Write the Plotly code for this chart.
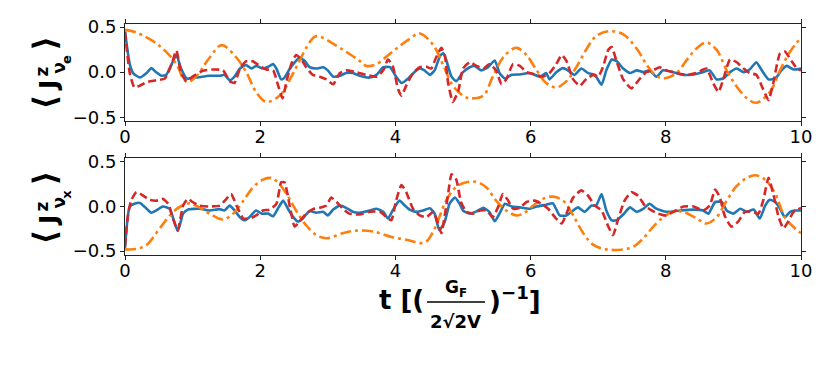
import plotly.graph_objects as go

# ---------------- data ----------------
t_top_orange = [0, 0.17, 0.5, 0.76, 0.86, 0.93, 1.05, 1.25, 1.43, 1.65, 1.8, 1.94, 2.09, 2.29, 2.44, 2.58, 2.73, 2.83,
                3.22, 3.47, 3.57, 3.72, 3.96, 4.21, 4.36, 4.56, 4.7, 4.85, 5.0, 5.1, 5.3, 5.44, 5.59, 5.74, 5.8, 5.94,
                6.09, 6.23, 6.38, 6.53, 6.68, 6.83, 6.97, 7.15, 7.37, 7.57, 7.71, 7.84, 7.96, 8.16, 8.3, 8.45, 8.6,
                8.75, 8.9, 9.04, 9.2, 9.34, 9.54, 9.69, 9.84, 10]
v_top_orange = [0.47, 0.44, 0.30, 0.09, -0.07, -0.11, -0.05, 0.16, 0.30, 0.16, -0.01, -0.22, -0.33, -0.26, -0.08, 0.125,
                0.33, 0.40, 0.25, 0.125, 0.07, 0.09, 0.23, 0.37, 0.43, 0.30, 0.09, -0.15, -0.26, -0.29, -0.26, -0.05,
                0.16, 0.26, 0.27, 0.19, 0.02, -0.12, -0.17, -0.10, 0.06, 0.26, 0.40, 0.455, 0.42, 0.26, 0.09, -0.03,
                -0.07, -0.01, 0.125, 0.26, 0.33, 0.25, 0.02, -0.15, -0.29, -0.34, -0.22, 0.02, 0.23, 0.385]

t_top_blue = [0, 0.07, 0.12, 0.22, 0.32, 0.39, 0.46, 0.54, 0.61, 0.69, 0.76, 0.83, 0.91, 1.05, 1.25, 1.4, 1.47, 1.55,
              1.62, 1.7, 1.79, 1.87, 1.94, 2.04, 2.12, 2.19, 2.24, 2.31, 2.36, 2.44, 2.51, 2.58, 2.66, 2.73, 2.83,
              2.93, 3.0, 3.08, 3.18, 3.27, 3.37, 3.47, 3.62, 3.72, 3.82, 3.92, 4.01, 4.09, 4.19, 4.28, 4.36, 4.43,
              4.51, 4.58, 4.66, 4.71, 4.75, 4.83, 4.9, 5.0, 5.1, 5.17, 5.27, 5.37, 5.47, 5.54, 5.62, 5.72, 5.84,
              5.99, 6.14, 6.23, 6.28, 6.38, 6.48, 6.55, 6.65, 6.75, 6.85, 6.95, 7.05, 7.12, 7.2, 7.27, 7.37, 7.47,
              7.57, 7.67, 7.76, 7.86, 7.96, 8.11, 8.26, 8.41, 8.55, 8.65, 8.75, 8.85, 8.95, 9.05, 9.15, 9.24, 9.34,
              9.42, 9.52, 9.62, 9.71, 9.79, 9.89, 10]
v_top_blue = [0.45, 0.09, -0.01, -0.06, -0.01, 0.045, 0.0, -0.04, -0.03, 0.09, 0.19, 0.04, -0.07, -0.06, -0.04, -0.04,
              -0.03, -0.09, -0.05, 0.04, 0.08, 0.04, 0.07, 0.04, 0.06, 0.09, 0.04, -0.08, -0.06, 0.04, 0.11, 0.16,
              0.125, 0.055, 0.04, 0.055, 0.02, -0.05, -0.04, -0.01, -0.01, -0.04, -0.06, -0.03, 0.055, 0.055, -0.05,
              -0.12, -0.07, 0.0, 0.04, 0.02, -0.03, 0.02, 0.18, 0.21, 0.14, -0.05, -0.10, 0.0, 0.055, 0.07, 0.02,
              0.055, 0.13, -0.01, -0.07, -0.03, -0.025, -0.01, -0.05, -0.01, -0.08, 0.0, 0.045, 0.02, -0.03, 0.04,
              -0.01, -0.03, -0.14, 0.02, 0.14, 0.125, 0.04, -0.01, 0.02, 0.0, 0.02, -0.05, 0.02, 0.0, -0.03, -0.025,
              0.0, 0.02, -0.08, -0.07, 0.0, 0.04, 0.0, 0.03, 0.11, 0.02, -0.08, -0.07, 0.02, 0.07, 0.03, 0.04]

t_top_red = [0, 0.07, 0.14, 0.22, 0.32, 0.46, 0.59, 0.69, 0.76, 0.83, 0.91, 1.0, 1.15, 1.3, 1.45, 1.55, 1.62, 1.7,
             1.79, 1.89, 1.99, 2.09, 2.19, 2.26, 2.33, 2.39, 2.46, 2.53, 2.61, 2.68, 2.78, 2.88, 2.98, 3.08, 3.18,
             3.27, 3.42, 3.57, 3.72, 3.82, 3.89, 3.96, 4.04, 4.09, 4.16, 4.26, 4.36, 4.46, 4.53, 4.6, 4.68, 4.73,
             4.78, 4.85, 4.93, 5.0, 5.1, 5.2, 5.3, 5.39, 5.49, 5.57, 5.64, 5.74, 5.84, 5.94, 6.09, 6.18, 6.28, 6.38,
             6.46, 6.53, 6.63, 6.73, 6.83, 6.93, 7.0, 7.07, 7.15, 7.2, 7.27, 7.37, 7.49, 7.62, 7.71, 7.81, 7.91,
             8.01, 8.16, 8.31, 8.45, 8.6, 8.7, 8.78, 8.85, 8.95, 9.05, 9.15, 9.24, 9.34, 9.44, 9.52, 9.59, 9.69,
             9.76, 9.86, 9.94, 10]
v_top_red = [0.45, -0.01, -0.17, -0.15, -0.11, -0.09, -0.07, 0.09, 0.24, -0.01, -0.10, -0.05, 0.015, 0.03, 0.02, -0.10,
             -0.12, 0.04, 0.12, 0.12, 0.07, 0.03, 0.02, -0.135, -0.29, -0.10, 0.09, 0.19, 0.14, 0.055, -0.03, -0.05,
             -0.08, -0.135, -0.01, 0.02, 0.0, -0.03, -0.05, 0.02, 0.14, 0.07, -0.19, -0.26, -0.15, -0.01, 0.055,
             0.06, 0.04, 0.16, 0.27, 0.19, -0.12, -0.33, -0.21, 0.04, 0.11, 0.07, 0.04, 0.09, 0.02, -0.135, -0.08,
             0.09, 0.07, 0.0, -0.03, -0.05, -0.01, 0.09, 0.19, 0.125, -0.08, -0.15, -0.07, -0.03, -0.05, 0.055,
             0.25, 0.28, 0.125, -0.08, -0.18, -0.07, 0.0, 0.02, 0.055, 0.02, -0.01, -0.03, -0.01, 0.04, -0.12,
             -0.22, -0.08, 0.14, 0.11, 0.04, -0.01, -0.03, -0.19, -0.31, -0.12, 0.21, 0.23, 0.125, 0.04, 0.02]

t_bot_orange = [0, 0.17, 0.32, 0.46, 0.61, 0.76, 0.91, 0.96, 1.1, 1.25, 1.45, 1.6, 1.75, 1.89, 2.04, 2.14, 2.24, 2.39,
                2.53, 2.68, 2.83, 2.98, 3.22, 3.42, 3.67, 3.96, 4.21, 4.36, 4.46, 4.56, 4.65, 4.75, 4.9, 5.05, 5.2,
                5.35, 5.49, 5.64, 5.79, 5.89, 6.04, 6.18, 6.33, 6.48, 6.63, 6.78, 6.93, 7.12, 7.37, 7.52, 7.67, 7.81,
                7.96, 8.11, 8.26, 8.46, 8.6, 8.75, 8.9, 9.05, 9.2, 9.32, 9.47, 9.62, 9.76, 9.89, 10]
v_bot_orange = [-0.48, -0.475, -0.43, -0.30, -0.15, -0.03, 0.03, 0.035, -0.01, -0.08, -0.145, -0.08, 0.065, 0.21, 0.30,
                0.32, 0.285, 0.14, -0.045, -0.21, -0.32, -0.355, -0.30, -0.27, -0.28, -0.345, -0.38, -0.41, -0.39,
                -0.28, -0.12, 0.065, 0.22, 0.27, 0.275, 0.21, 0.065, -0.045, -0.10, -0.08, 0.01, 0.085, 0.11, 0.065,
                -0.10, -0.30, -0.43, -0.48, -0.48, -0.45, -0.355, -0.23, -0.12, -0.06, -0.06, -0.135, -0.19, -0.12,
                0.065, 0.23, 0.32, 0.35, 0.30, 0.14, -0.12, -0.23, -0.30]

t_bot_blue = [0, 0.07, 0.14, 0.22, 0.32, 0.39, 0.46, 0.56, 0.66, 0.78, 0.86, 0.93, 1.1, 1.25, 1.4, 1.47, 1.55, 1.62,
              1.7, 1.77, 1.84, 1.94, 2.02, 2.12, 2.19, 2.26, 2.34, 2.41, 2.49, 2.56, 2.63, 2.73, 2.83, 2.93, 3.0,
              3.08, 3.18, 3.27, 3.37, 3.47, 3.62, 3.72, 3.82, 3.89, 3.96, 4.06, 4.14, 4.21, 4.31, 4.41, 4.51, 4.58,
              4.65, 4.73, 4.8, 4.88, 4.95, 5.0, 5.1, 5.2, 5.3, 5.39, 5.47, 5.54, 5.62, 5.72, 5.84, 5.99, 6.09, 6.23,
              6.33, 6.43, 6.53, 6.63, 6.7, 6.8, 6.9, 6.97, 7.05, 7.12, 7.2, 7.27, 7.37, 7.47, 7.57, 7.67, 7.76, 7.86,
              8.01, 8.21, 8.41, 8.55, 8.63, 8.73, 8.83, 8.9, 9.0, 9.1, 9.2, 9.3, 9.39, 9.47, 9.54, 9.62, 9.69, 9.76,
              9.84, 9.91, 10]
v_bot_blue = [-0.465, 0.0, 0.03, 0.04, -0.025, -0.07, -0.045, 0.0, -0.025, -0.275, -0.08, -0.035, -0.025, -0.045, -0.03,
              -0.045, 0.01, -0.045, -0.12, -0.155, -0.12, -0.045, -0.08, -0.08, -0.11, -0.025, 0.065, -0.025, -0.12,
              -0.17, -0.135, -0.05, -0.07, -0.06, -0.10, -0.035, 0.01, -0.015, -0.06, -0.07, -0.045, -0.025, -0.06,
              -0.135, -0.045, 0.065, 0.01, -0.035, -0.06, -0.045, -0.02, -0.08, -0.265, -0.17, 0.03, 0.10, 0.03,
              -0.045, -0.08, -0.055, -0.015, -0.06, -0.165, -0.08, 0.03, 0.0, -0.01, -0.025, 0.0, 0.02, 0.035, -0.10,
              -0.10, -0.045, -0.01, -0.06, 0.01, 0.01, 0.14, -0.045, -0.155, -0.155, -0.09, -0.01, -0.06, -0.025,
              0.03, -0.025, -0.06, -0.045, -0.035, -0.045, -0.08, 0.05, 0.05, -0.045, -0.08, -0.025, -0.06, -0.035,
              -0.135, 0.01, 0.075, 0.05, -0.025, -0.12, -0.06, -0.045, -0.045]

t_bot_red = [0, 0.04, 0.09, 0.17, 0.27, 0.36, 0.46, 0.56, 0.64, 0.71, 0.78, 0.86, 0.93, 1.0, 1.1, 1.25, 1.4, 1.5,
             1.57, 1.65, 1.75, 1.84, 1.94, 2.04, 2.14, 2.24, 2.31, 2.36, 2.44, 2.51, 2.58, 2.68, 2.78, 2.88, 2.98,
             3.05, 3.13, 3.22, 3.32, 3.47, 3.62, 3.77, 3.87, 3.94, 4.01, 4.09, 4.16, 4.26, 4.36, 4.46, 4.56, 4.63,
             4.68, 4.73, 4.78, 4.83, 4.9, 4.97, 5.05, 5.15, 5.25, 5.35, 5.44, 5.52, 5.59, 5.67, 5.74, 5.84, 5.94,
             6.06, 6.16, 6.26, 6.36, 6.46, 6.53, 6.63, 6.75, 6.85, 6.95, 7.05, 7.15, 7.22, 7.29, 7.39, 7.49, 7.59,
             7.69, 7.79, 7.89, 8.01, 8.11, 8.26, 8.41, 8.55, 8.65, 8.73, 8.8, 8.87, 8.97, 9.07, 9.17, 9.27, 9.37,
             9.44, 9.52, 9.59, 9.67, 9.74, 9.81, 9.89, 10]
v_bot_red = [-0.445, -0.12, 0.065, 0.16, 0.12, 0.075, 0.065, 0.085, 0.03, -0.135, -0.265, 0.01, 0.085, 0.05, 0.01, 0.0,
             0.01, 0.085, 0.14, 0.01, -0.135, -0.135, -0.10, -0.045, -0.035, 0.03, 0.27, 0.27, -0.005, -0.225, -0.17,
             -0.08, -0.03, -0.015, 0.01, 0.10, 0.05, -0.025, -0.08, -0.09, -0.06, -0.06, -0.12, -0.155, 0.065, 0.24,
             0.16, -0.025, -0.10, -0.12, -0.06, -0.19, -0.30, -0.10, 0.14, 0.36, 0.30, 0.05, -0.06, -0.08, -0.045,
             -0.045, -0.12, -0.005, 0.14, 0.065, -0.025, -0.015, 0.05, 0.065, 0.03, -0.025, -0.12, -0.19, -0.08,
             0.10, 0.18, 0.12, 0.01, -0.045, -0.225, -0.32, -0.155, 0.065, 0.16, 0.12, 0.01, -0.045, -0.08, -0.10,
             -0.06, 0.0, 0.0, -0.045, 0.01, 0.19, 0.10, -0.10, -0.225, -0.17, -0.06, -0.06, -0.08, 0.065, 0.32,
             0.14, -0.12, -0.245, -0.17, -0.06, -0.015]

x_ticks = [0, 2, 4, 6, 8, 10]
y_ticks = [-0.5, 0.0, 0.5]
y_tick_text = ["\u22120.5", "0.0", "0.5"]

BLUE, ORANGE, RED = "#1f77b4", "#ff7f0e", "#d62728"
FONT = "DejaVu Sans"

fig = go.Figure()


def add(t, v, color, dash, ax, smooth):
    fig.add_trace(go.Scatter(
        x=t, y=v, mode="lines", xaxis="x" + ax, yaxis="y" + ax,
        line=dict(color=color, width=2.6, dash=dash, shape="spline", smoothing=smooth),
        showlegend=False, hoverinfo="skip"))


add(t_top_blue, v_top_blue, BLUE, "solid", "", 0.5)
add(t_top_orange, v_top_orange, ORANGE, "11px,4px,3px,4px", "", 1.0)
add(t_top_red, v_top_red, RED, "8px,4px", "", 0.5)
add(t_bot_blue, v_bot_blue, BLUE, "solid", "2", 0.5)
add(t_bot_orange, v_bot_orange, ORANGE, "11px,4px,3px,4px", "2", 1.0)
add(t_bot_red, v_bot_red, RED, "8px,4px", "2", 0.5)

# The page body adds an 8px offset; work in screen pixels and subtract it.
OFF = 8
W, H = 830, 374
PLOT_L, PLOT_R, PLOT_T, PLOT_B = 125, 801, 17, 255   # screen pixels of the plotting area
ML, MT = PLOT_L - OFF, PLOT_T - OFF
MR = W - (PLOT_R - OFF)
MB = H - (PLOT_B - OFF)
PH = H - MT - MB
PW = W - ML - MR

axis_common = dict(showline=True, linecolor="#222", linewidth=1, mirror="ticks", ticks="outside",
                   ticklen=4, tickcolor="#222", showgrid=False, zeroline=False,
                   tickfont=dict(family=FONT, size=18, color="black"))


def px(xs):
    return (xs - PLOT_L) / PW


def py(ys):
    return (PLOT_B - ys) / PH


top_dom = [py(117), 1.0]
bot_dom = [0.0, py(155)]

fig.update_layout(
    width=W, height=H, margin=dict(l=ML, r=MR, t=MT, b=MB),
    plot_bgcolor="white", paper_bgcolor="white",
    xaxis=dict(domain=[0, 1], range=[0, 10], tickvals=x_ticks, anchor="y", ticklabelstandoff=-5,
               **axis_common),
    yaxis=dict(domain=top_dom, range=[-0.543, 0.535], tickvals=y_ticks, ticktext=y_tick_text,
               anchor="x", **axis_common),
    xaxis2=dict(domain=[0, 1], range=[0, 10], tickvals=x_ticks, anchor="y2", ticklabelstandoff=-5,
                **axis_common),
    yaxis2=dict(domain=bot_dom, range=[-0.543, 0.543], tickvals=y_ticks, ticktext=y_tick_text,
                anchor="x2", **axis_common),
)

ann = []


def rot(text, xs, ys, size):
    ann.append(dict(text="<b>" + text + "</b>", x=px(xs), y=py(ys), textangle=-90,
                    font=dict(family=FONT, size=size, color="black")))


# y-axis titles  <J^z_{nu_e}>  and  <J^z_{nu_x}>, built glyph by glyph (rotated)
for dy, sub in ((0, "e"), (139, "x")):
    rot("\u27e8", 45, 98 + dy, 32)
    rot("J", 48, 81 + dy, 25)
    rot("z", 42, 66 + dy, 17)
    rot("\u03bd", 59, 62 + dy, 17)
    rot(sub, 67, 54 + dy, 13)
    rot("\u27e9", 45, 37 + dy, 32)

# x-axis title pieces
ann.append(dict(text="<b>t [(</b>", x=px(426), y=py(301), xanchor="right",
                font=dict(family=FONT, size=26, color="black")))
ann.append(dict(text="<b>G<sub>F</sub></b>", x=px(456), y=py(290),
                font=dict(family=FONT, size=17, color="black")))
ann.append(dict(text="<b>2\u221a2V</b>", x=px(455), y=py(324),
                font=dict(family=FONT, size=18, color="black")))
ann.append(dict(text="<b>)<sup>\u22121</sup>]</b>", x=px(487), y=py(300), xanchor="left",
                font=dict(family=FONT, size=26, color="black")))
for a in ann:
    a.update(xref="paper", yref="paper", showarrow=False)
    a.setdefault("xanchor", "center")
    a.setdefault("yanchor", "middle")
fig.update_layout(annotations=ann)

fig.add_shape(type="line", xref="paper", yref="paper", x0=px(427), x1=px(485), y0=py(303.5), y1=py(303.5),
              line=dict(color="black", width=1.6))

fig.write_html("out.html")
